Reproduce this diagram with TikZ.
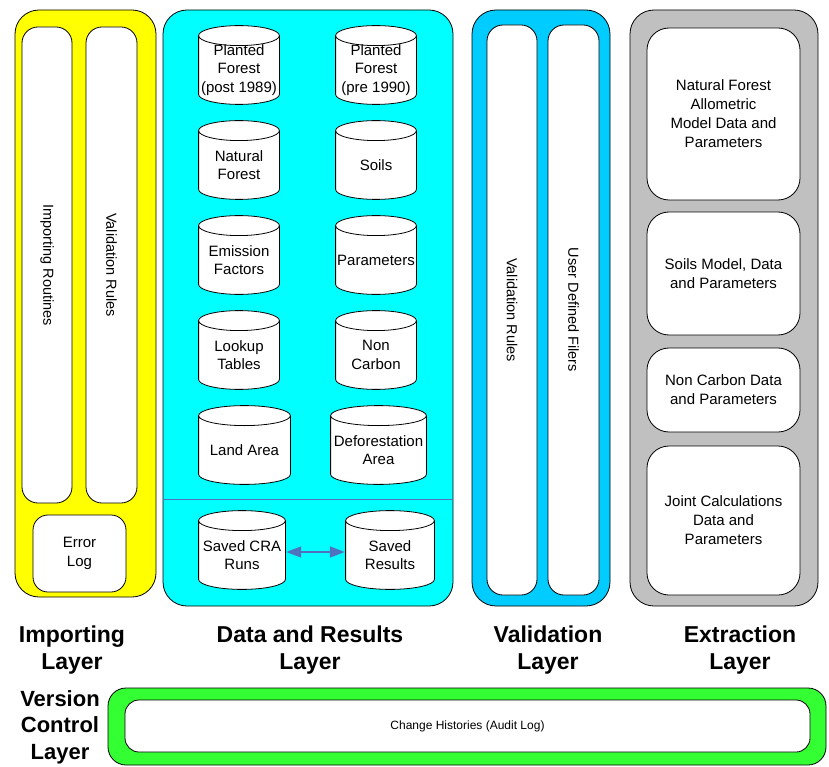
\documentclass[tikz,border=0pt]{standalone}
\usepackage{fontspec}
\setmainfont{Liberation Sans}
\usetikzlibrary{calc,arrows.meta}
\definecolor{impyellow}{HTML}{FFFF00}
\definecolor{datacyan}{HTML}{00FFFF}
\definecolor{valblue}{HTML}{00CCFF}
\definecolor{extgray}{HTML}{C0C0C0}
\definecolor{vcgreen}{HTML}{33FF33}
\definecolor{linkblue}{HTML}{4F72C0}

\begin{document}
\begin{tikzpicture}[x=1pt,y=-1pt,
    every node/.style={font=\fontsize{15}{19}\selectfont,align=center,inner sep=0pt},
    layer/.style={draw,line width=0.8pt,rounded corners=24pt},
    panel/.style={draw,fill=white,line width=0.8pt,rounded corners=#1},
    panel/.default=16pt,
    column/.style={panel,rotate=-90,font=\fontsize{14.5}{17}\selectfont},
    % cylinder drawn in the upper 80pt of a 90pt box, text sits a bit low
    store/.style={minimum width=#1,minimum height=90pt,yshift=-5pt,
      font=\fontsize{15}{18.5}\selectfont,
      path picture={
        \filldraw[fill=white,line width=0.8pt]
          let \p1=(path picture bounding box.north west),
              \p2=(path picture bounding box.south east),
              \n1={\x1+0.6pt}, \n2={\x2-0.6pt},
              \n3={\y1-10.6pt}, \n4={\y2+20.6pt},
              \n5={(\x2-\x1)/2-0.6pt} in
          (\n1,\n3) -- (\n1,\n4)
          arc[start angle=180,end angle=360,x radius=\n5,y radius=10pt]
          -- (\n2,\n3)
          arc[start angle=0,end angle=180,x radius=\n5,y radius=10pt] -- cycle
          (\n1,\n3) arc[start angle=180,end angle=360,x radius=\n5,y radius=10pt];
      }},
    store/.default=82pt,
    caption/.style={font=\bfseries\fontsize{23}{27}\selectfont},
    link/.style={draw=linkblue,line width=1.6pt,
      {Triangle[length=15pt,width=11pt]}-{Triangle[length=15pt,width=11pt]}}
  ]
  \useasboundingbox (0,0) rectangle (829,767);

  % importing layer
  \node[layer,fill=impyellow,minimum width=141pt,minimum height=587pt] (importing) at (85.5,303.5) {};
  \node[column,minimum width=476pt,minimum height=50pt] (routines) at (47,265) {Importing Routines};
  \node[column,minimum width=476pt,minimum height=51pt] (imprules) at (111.5,265) {Validation Rules};
  \node[panel=15pt,minimum width=93pt,minimum height=77pt] (errorlog) at (79.5,553.5) {Error\\Log};

  % data and results layer
  \node[layer,fill=datacyan,minimum width=290pt,minimum height=596pt] (data) at (308,308) {};
  \draw[linkblue,line width=0.8pt] (data.west |- 0,499) -- (data.east |- 0,499);
  \node[store] (plantpost) at (239,65) {Planted\\Forest\\(post 1989)};
  \node[store] (plantpre) at (376,65) {Planted\\Forest\\(pre 1990)};
  \node[store] (natforest) at (239,160) {Natural\\Forest};
  \node[store] (soils) at (376,160) {Soils};
  \node[store] (emission) at (239,255) {Emission\\Factors};
  \node[store] (params) at (376,255) {Parameters};
  \node[store] (lookup) at (239,350) {Lookup\\Tables};
  \node[store] (noncarbon) at (376,350) {Non\\Carbon};
  \node[store=93pt] (landarea) at (244.5,445) {Land Area};
  \node[store=97pt] (deforest) at (378.5,445) {Deforestation\\Area};
  \node[store=88pt] (craruns) at (242,550) {Saved CRA\\Runs};
  \node[store=90pt] (results) at (390,550) {Saved\\Results};
  \draw[link] ([yshift=3pt]craruns.east) -- ([yshift=3pt]results.west);

  % validation layer
  \node[layer,fill=valblue,minimum width=138pt,minimum height=596pt] (validation) at (541,308) {};
  \node[column,minimum width=570pt,minimum height=50pt] (valrules) at (512,310) {Validation Rules};
  \node[column,minimum width=570pt,minimum height=51pt] (filers) at (573.5,310) {User Defined Filers};

  % extraction layer
  \node[layer,fill=extgray,minimum width=188pt,minimum height=596pt] (extraction) at (724,308) {};
  \node[panel=22pt,minimum width=153pt,minimum height=172pt] (allometric) at (723.5,114) {Natural Forest\\Allometric\\Model Data and\\Parameters};
  \node[panel=22pt,minimum width=153pt,minimum height=123pt] (soilsmodel) at (723.5,273.5) {Soils Model, Data\\and Parameters};
  \node[panel=22pt,minimum width=153pt,minimum height=84pt] (noncarbdata) at (723.5,390) {Non Carbon Data\\and Parameters};
  \node[panel=22pt,minimum width=153pt,minimum height=149pt] (joint) at (723.5,520.5) {Joint Calculations\\Data and\\Parameters};

  % layer captions
  \node[caption] (impcap) at (72,650) {Importing\\Layer};
  \node[caption] (datacap) at (310,650) {Data and Results\\Layer};
  \node[caption] (valcap) at (548,650) {Validation\\Layer};
  \node[caption] (extcap) at (740,650) {Extraction\\Layer};
  \node[caption,font=\bfseries\fontsize{22}{26.5}\selectfont] (vccap) at (60,727) {Version\\Control\\Layer};

  % version control layer
  \node[layer,fill=vcgreen,rounded corners=18pt,minimum width=718pt,minimum height=77pt] (version) at (467,726.5) {};
  \node[panel=14pt,minimum width=685pt,minimum height=52pt,font=\fontsize{12}{14}\selectfont] (audit) at (467.5,726) {Change Histories (Audit Log)};
\end{tikzpicture}
\end{document}
